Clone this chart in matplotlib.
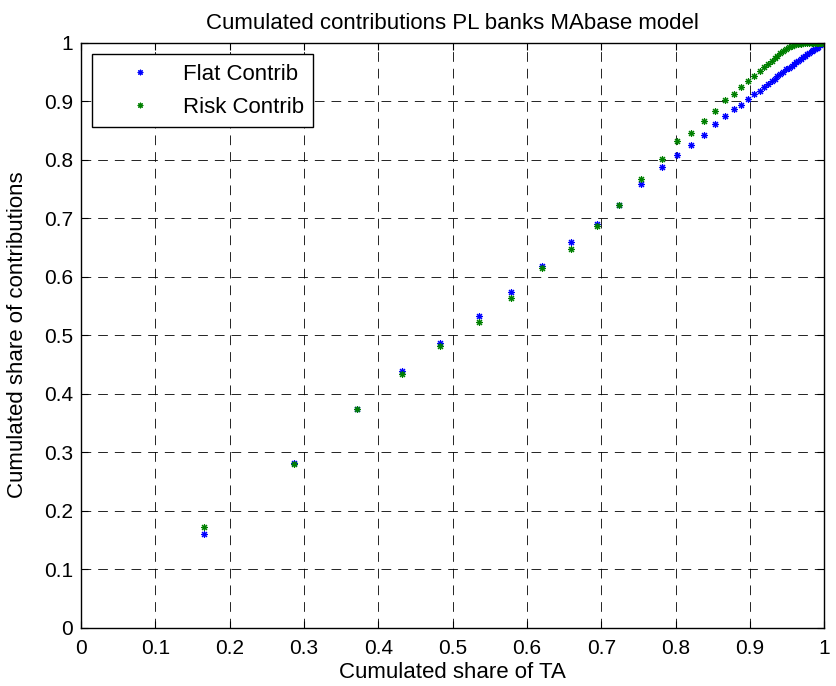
import matplotlib
matplotlib.use('Agg')
import matplotlib.pyplot as plt

plt.rcParams['font.family'] = ['Liberation Sans', 'DejaVu Sans']
plt.rcParams['lines.scale_dashes'] = False

# cumulated share of total assets (same for both series)
share_ta = [0.165, 0.287, 0.371, 0.432, 0.483, 0.535, 0.578, 0.620, 0.659, 0.694,
            0.724, 0.754, 0.781, 0.802, 0.821, 0.838, 0.853, 0.867, 0.879, 0.888,
            0.897, 0.906, 0.913, 0.919, 0.924, 0.929, 0.933, 0.937, 0.941, 0.945,
            0.949, 0.953, 0.956, 0.959, 0.962, 0.965, 0.968, 0.971, 0.974, 0.977,
            0.980, 0.983, 0.985, 0.988, 0.990, 0.992, 0.994, 0.996, 0.998, 1.000]

flat_contrib = [0.160, 0.282, 0.374, 0.439, 0.486, 0.532, 0.573, 0.618, 0.659, 0.690,
                0.723, 0.758, 0.788, 0.807, 0.825, 0.842, 0.860, 0.874, 0.887, 0.894,
                0.904, 0.912, 0.918, 0.924, 0.929, 0.934, 0.938, 0.942, 0.946, 0.950,
                0.954, 0.957, 0.960, 0.963, 0.966, 0.969, 0.972, 0.975, 0.977, 0.980,
                0.982, 0.985, 0.987, 0.989, 0.991, 0.993, 0.995, 0.997, 0.999, 1.000]

risk_contrib = [0.172, 0.280, 0.374, 0.433, 0.481, 0.523, 0.564, 0.615, 0.648, 0.686,
                0.723, 0.767, 0.801, 0.831, 0.846, 0.866, 0.883, 0.901, 0.912, 0.924,
                0.934, 0.943, 0.951, 0.958, 0.964, 0.968, 0.973, 0.977, 0.982, 0.986,
                0.989, 0.992, 0.994, 0.996, 0.997, 0.998, 0.998, 0.999, 0.999, 0.999,
                1.000, 1.000, 1.000, 1.000, 1.000, 1.000, 1.000, 1.000, 1.000, 1.000]

ticks = [0, 0.1, 0.2, 0.3, 0.4, 0.5, 0.6, 0.7, 0.8, 0.9, 1]
tick_labels = ['0', '0.1', '0.2', '0.3', '0.4', '0.5', '0.6', '0.7', '0.8', '0.9', '1']

fs = 16

fig = plt.figure(figsize=(8.36, 6.86), dpi=100)
ax = fig.add_axes([0.097, 0.085, 0.889, 0.853])

star = (8, 2, 0)
ax.plot(share_ta, flat_contrib, ls='none', marker=star, ms=5, mew=0.8,
        color='#0000ff', label='Flat Contrib')
ax.plot(share_ta, risk_contrib, ls='none', marker=star, ms=5, mew=0.8,
        color='#008000', label='Risk Contrib')

ax.set_xlim(0, 1)
ax.set_ylim(0, 1)
ax.set_xticks(ticks)
ax.set_xticklabels(tick_labels)
ax.set_yticks(ticks)
ax.set_yticklabels(tick_labels)
ax.tick_params(direction='in', top=True, right=True, length=5, labelsize=15, pad=6)
ax.tick_params(axis='x', pad=8)
ax.grid(True, color='k', ls=(0, (7, 5)), lw=0.6)
for s in ax.spines.values():
    s.set_linewidth(1)

ax.set_title('Cumulated contributions PL banks MAbase model', fontsize=fs, pad=10)
ax.set_xlabel('Cumulated share of TA', fontsize=fs, labelpad=3)
ax.set_ylabel('Cumulated share of contributions', fontsize=fs, labelpad=11)

leg = ax.legend(loc='upper left', bbox_to_anchor=(0.0148, 0.980), borderaxespad=0,
                fontsize=fs, fancybox=False, framealpha=1, edgecolor='k',
                handlelength=3.48, handletextpad=0.19, borderpad=0.42,
                labelspacing=0.55, markerscale=0.8)
leg.get_frame().set_linewidth(1)

fig.savefig('out.png', dpi=100)
